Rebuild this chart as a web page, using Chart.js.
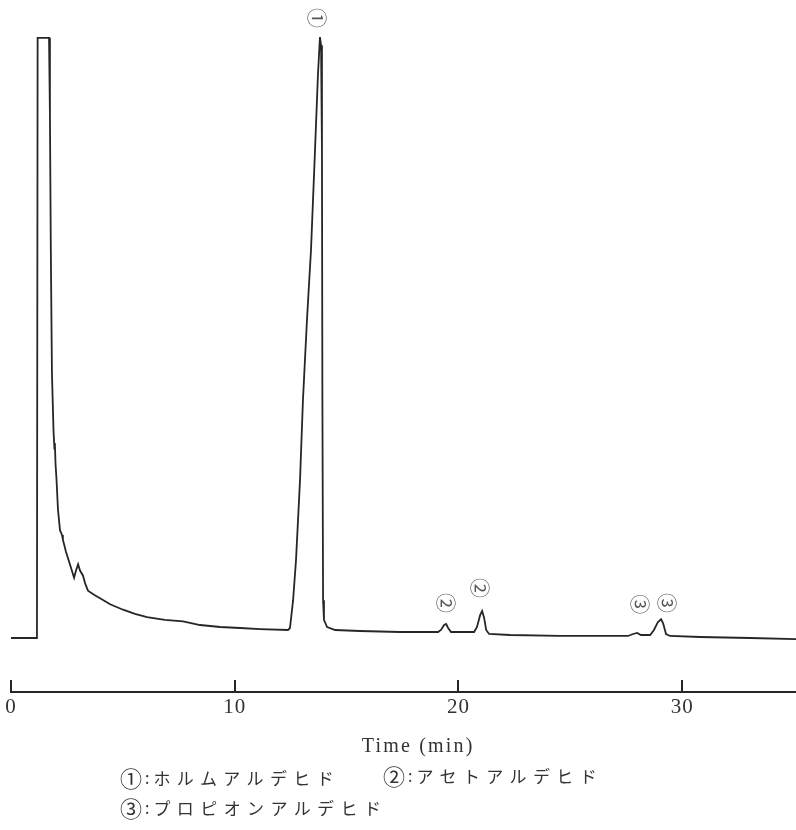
<!DOCTYPE html>
<html>
<head>
<meta charset="utf-8">
<script src="https://cdn.jsdelivr.net/npm/chart.js@4.4.1/dist/chart.umd.min.js"></script>
<style>
  html, body { margin: 0; padding: 0; background: #fff; }
  #wrap { position: relative; width: 796px; height: 830px; overflow: hidden; }
  canvas { position: absolute; left: 0; top: 0; }
  .row { position: absolute; white-space: nowrap; color: #333; font-family: "Noto Sans CJK JP", sans-serif; line-height: 1; }
  .c { font-size: 22px; display: inline-block; vertical-align: middle; }
  .k { font-size: 16px; display: inline-block; vertical-align: middle; margin: 0 4px 0 3px; }
  .j { font-size: 17px; letter-spacing: 6.4px; display: inline-block; vertical-align: middle; }
</style>
</head>
<body>
<div id="wrap">
  <canvas id="c" width="796" height="830"></canvas>
  <div class="row" id="r1" style="left:120px; top:766px;"><span class="c" id="l1c"></span><span class="k">:</span><span class="j" id="l1t"></span></div>
  <div class="row" id="r2" style="left:383px; top:764px;"><span class="c" id="l2c"></span><span class="k">:</span><span class="j" id="l2t"></span></div>
  <div class="row" id="r3" style="left:120px; top:796px;"><span class="c" id="l3c"></span><span class="k">:</span><span class="j" id="l3t"></span></div>
</div>
<script>
// ---- data ----
const times = [0.00,1.16,1.19,1.70,1.74,1.78,1.83,1.90,1.94,1.96,1.99,2.03,2.10,2.19,2.28,2.32,2.46,2.64,2.82,2.91,3.00,3.08,3.22,3.31,3.44,3.71,3.98,4.43,5.01,5.54,6.08,6.88,7.69,8.45,9.35,10.24,11.13,12.38,12.47,12.61,12.74,12.92,13.05,13.23,13.41,13.59,13.72,13.81,13.86,13.90,13.92,13.95,13.99,14.13,14.49,15.60,17.39,19.09,19.22,19.36,19.45,19.54,19.67,20.70,20.83,20.97,21.06,21.15,21.24,21.37,22.31,24.54,26.33,27.58,27.81,27.99,28.16,28.57,28.74,28.92,29.06,29.15,29.28,29.46,30.80,33.04,35.09];
const signal = [7.94,7.94,96.2,96.2,85.0,65.0,47.0,38.5,35.8,36.6,33.6,31.5,26.8,23.8,23.1,22.4,20.6,18.7,16.8,17.9,18.8,17.9,17.1,16.0,14.9,14.3,13.8,12.9,12.1,11.5,11.0,10.6,10.4,9.85,9.56,9.41,9.26,9.12,9.41,13.5,19.4,31.2,42.9,54.7,65.0,79.7,90.7,96.3,95.1,79.7,42.9,13.5,10.6,9.56,9.12,8.97,8.82,8.82,9.12,9.85,10.0,9.41,8.82,8.82,9.56,11.3,11.9,10.9,9.12,8.53,8.38,8.24,8.24,8.24,8.53,8.68,8.38,8.38,9.12,10.3,10.7,10.1,8.53,8.24,8.09,7.94,7.79];

const tickValues = [0, 10, 20, 30];
const tickLabels = ['0', '10', '20', '30'];
const axisTitle = 'Time (min)';
const axisTitleCenter = 18.2;   // minutes, where the title sits under the axis

const peakLabels = ['①', '②', '②', '③', '③'];
const peakLabelTimes = [13.72, 19.45, 21.01, 28.16, 29.33];
const peakLabelValues = [99.1, 13.1, 15.3, 12.9, 13.1];

const legendMarks = ['①', '②', '③'];
const legendNames = ['ホルムアルデヒド', 'アセトアルデヒド', 'プロピオンアルデヒド'];

document.getElementById('l1c').textContent = legendMarks[0];
document.getElementById('l1t').textContent = legendNames[0];
document.getElementById('l2c').textContent = legendMarks[1];
document.getElementById('l2t').textContent = legendNames[1];
document.getElementById('l3c').textContent = legendMarks[2];
document.getElementById('l3t').textContent = legendNames[2];

const INK = '#262626';

const drawPlugin = {
  id: 'extras',
  beforeDraw(chart) { chart.ctx.letterSpacing = '1px'; },
  afterDraw(chart) {
    const ctx = chart.ctx;
    const xs = chart.scales.x, ys = chart.scales.y;
    const bottom = chart.chartArea.bottom;
    // upward tick marks
    ctx.save();
    ctx.letterSpacing = '0px';
    ctx.strokeStyle = INK;
    ctx.lineWidth = 2;
    xs.ticks.forEach(t => {
      const px = Math.round(xs.getPixelForValue(t.value));
      ctx.beginPath();
      ctx.moveTo(px, bottom + 1);
      ctx.lineTo(px, bottom - 12);
      ctx.stroke();
    });
    ctx.restore();
    // axis title
    ctx.save();
    ctx.letterSpacing = '2.2px';
    ctx.fillStyle = '#333';
    ctx.font = '20px "Liberation Serif", serif';
    ctx.textAlign = 'center';
    ctx.textBaseline = 'middle';
    ctx.fillText(axisTitle, xs.getPixelForValue(axisTitleCenter), bottom + 55);
    ctx.restore();
    // rotated circled peak labels
    ctx.save();
    ctx.letterSpacing = '0px';
    ctx.fillStyle = '#555';
    ctx.font = '20px "Noto Sans CJK JP", sans-serif';
    ctx.textAlign = 'center';
    ctx.textBaseline = 'middle';
    peakLabels.forEach((lab, i) => {
      const px = xs.getPixelForValue(peakLabelTimes[i]);
      const py = ys.getPixelForValue(peakLabelValues[i]);
      ctx.save();
      ctx.translate(px, py);
      ctx.rotate(Math.PI / 2);
      ctx.fillText(lab, 0, 1);
      ctx.restore();
    });
    ctx.restore();
  }
};

new Chart(document.getElementById('c'), {
  type: 'line',
  data: {
    datasets: [{
      data: times.map((t, i) => ({ x: t, y: signal[i] })),
      borderColor: INK,
      borderWidth: 1.8,
      pointRadius: 0,
      tension: 0,
      fill: false
    }]
  },
  options: {
    responsive: false,
    animation: false,
    devicePixelRatio: 1,
    layout: { padding: { left: 11, right: 0, top: 12, bottom: 72 } },
    plugins: { legend: { display: false }, tooltip: { enabled: false } },
    scales: {
      x: {
        type: 'linear',
        min: 0,
        max: 35.09,
        afterBuildTicks: s => { s.ticks = tickValues.map(v => ({ value: v })); },
        afterFit: s => { s.height = 66; },
        grid: { display: false, drawTicks: false },
        border: { display: true, color: INK, width: 2 },
        ticks: {
          padding: 3,
          color: '#333',
          font: { family: '"Liberation Serif", serif', size: 21 },
          callback: (v) => tickLabels[tickValues.indexOf(v)] ?? ''
        },
        title: { display: false }
      },
      y: {
        display: false,
        min: 0,
        max: 100
      }
    }
  },
  plugins: [drawPlugin]
});
</script>
</body>
</html>
